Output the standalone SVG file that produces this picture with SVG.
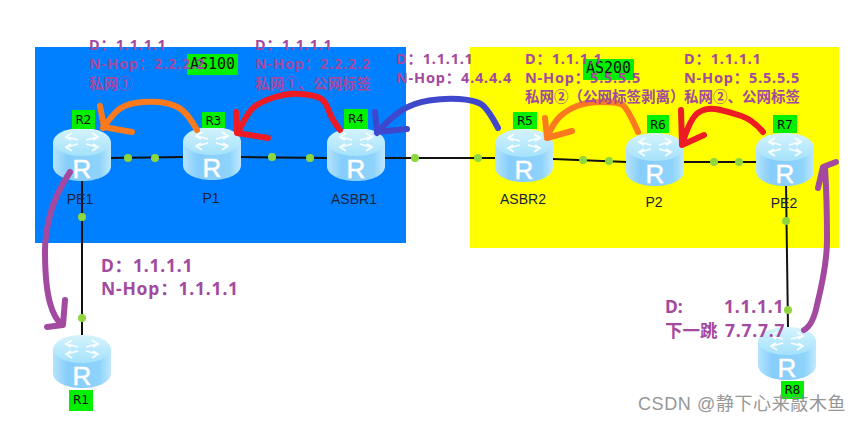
<svg xmlns="http://www.w3.org/2000/svg" xmlns:xlink="http://www.w3.org/1999/xlink" width="865" height="423" viewBox="0 0 865 423">
<style>
.bg{fill:#fff}
.link{fill:none;stroke:#111;stroke-width:2}
.dot{fill:#8fd63f}
.tag{fill:#00f000}
.tagt{font-family:"DejaVu Sans Mono","Liberation Mono",monospace;font-size:13px;fill:#111;text-anchor:middle}
.ast{font-size:15px}
.name{font-family:"Liberation Sans",Arial,sans-serif;font-size:14px;fill:#17233a;text-anchor:middle}
.info{font-family:"Noto Sans","Noto Sans CJK SC",sans-serif;font-size:14.5px;font-weight:700;fill:#a3499f}
.sp{letter-spacing:.8px}
.big{font-size:17.5px}
.arrow{fill:none;stroke-width:6;stroke-linecap:round;stroke-linejoin:round}
.rt{fill:#fff;stroke:#fff;stroke-width:.5;font-family:"Liberation Sans",Arial,sans-serif;font-size:26px;text-anchor:middle}
</style>
<defs>
<linearGradient id="side" x1="0" x2="1" y1="0" y2="0"><stop offset="0" stop-color="#b5e4fc"/><stop offset=".25" stop-color="#87cdfb"/><stop offset=".8" stop-color="#8ed3fb"/><stop offset="1" stop-color="#c0e9fd"/></linearGradient>
<linearGradient id="top" x1="0" x2="0" y1="0" y2="1"><stop offset="0" stop-color="#d5f3fd"/><stop offset="1" stop-color="#a4e2fb"/></linearGradient>
<symbol id="router" width="58" height="54" viewBox="0 0 58 54" overflow="visible">
<path d="M0 14V38C0 47 13 53 29 53S58 47 58 38V14Z" fill="url(#side)"/>
<ellipse cx="29" cy="14" rx="29" ry="14" fill="url(#top)"/>
<g fill="none" stroke="#fff" stroke-width="1.800" opacity=".9">
<path d="M19 5l-6 4 5 3M14 9l11 3M39 5l6 4-5 3M44 9l-11 3M19 23l-6-4 5-3M14 19l11-3M39 23l6-4-5-3M44 19l-11-3"/>
</g>
<text x="29" y="50" class="rt">R</text>
</symbol>
</defs>
<rect class="bg" width="865" height="423"/>
<rect x="35" y="47" width="371" height="196" fill="#0080ff"/>
<rect x="470" y="47" width="369" height="201" fill="#ffff00"/>
<g id="connectors">
<path class="link" d="M110 158L184 157"/>
<path class="link" d="M241 157L328 158"/>
<path class="link" d="M384 158L496 158"/>
<path class="link" d="M553 159L627 162"/>
<path class="link" d="M684 162L757 162"/>
<path class="link" d="M82 180V336"/>
<path class="link" d="M786 183L788 328"/>
<g class="dot">
<circle cx="128" cy="158" r="4"/><circle cx="155" cy="158" r="4"/>
<circle cx="272" cy="157" r="4"/><circle cx="310" cy="158" r="4"/>
<circle cx="415" cy="158" r="4"/><circle cx="478" cy="158" r="4"/>
<circle cx="583" cy="160" r="4"/><circle cx="609" cy="161" r="4"/>
<circle cx="714" cy="162" r="4"/><circle cx="739" cy="162" r="4"/>
<circle cx="82" cy="217" r="4"/><circle cx="82" cy="318" r="4"/>
<circle cx="786" cy="221" r="4"/><circle cx="788" cy="310" r="4"/>
</g>
</g>
<g id="as100"><rect x="187" y="54" width="51" height="21" class="tag"/><text x="212.500" y="69" class="tagt ast">AS100</text></g>
<g id="as200"><rect x="583" y="59" width="51" height="21" class="tag"/><text x="608.500" y="73" class="tagt ast">AS200</text></g>
<g id="R2"><use xlink:href="#router" href="#router" x="53" y="128" width="58" height="54"/><rect x="72" y="110" width="23" height="19" class="tag"/><text x="83.500" y="124" class="tagt">R2</text><text x="80" y="204" class="name">PE1</text></g>
<g id="R3"><use xlink:href="#router" href="#router" x="183" y="127" width="58" height="54"/><rect x="202" y="112" width="23" height="16" class="tag"/><text x="213.500" y="125" class="tagt">R3</text><text x="211" y="203" class="name">P1</text></g>
<g id="R4"><use xlink:href="#router" href="#router" x="327" y="128" width="58" height="54"/><rect x="344" y="109" width="24" height="20" class="tag"/><text x="356" y="123" class="tagt">R4</text><text x="354" y="204" class="name">ASBR1</text></g>
<g id="R5"><use xlink:href="#router" href="#router" x="495" y="129" width="58" height="54"/><rect x="513" y="112" width="24" height="17" class="tag"/><text x="525" y="125" class="tagt">R5</text><text x="523" y="204" class="name">ASBR2</text></g>
<g id="R6"><use xlink:href="#router" href="#router" x="626" y="133" width="58" height="54"/><rect x="647" y="115" width="22" height="18" class="tag"/><text x="658" y="129" class="tagt">R6</text><text x="654" y="207" class="name">P2</text></g>
<g id="R7"><use xlink:href="#router" href="#router" x="756" y="133" width="58" height="54"/><rect x="773" y="115" width="24" height="18" class="tag"/><text x="785" y="129" class="tagt">R7</text><text x="784" y="208" class="name">PE2</text></g>
<g id="R1"><use xlink:href="#router" href="#router" x="53" y="335" width="58" height="54"/><rect x="69" y="390" width="24" height="21" class="tag"/><text x="81" y="404" class="tagt">R1</text></g>
<g id="R8"><use xlink:href="#router" href="#router" x="758" y="327" width="58" height="54"/><rect x="781" y="381" width="23" height="18" class="tag"/><text x="792.500" y="394" class="tagt">R8</text></g>
<g id="arrows">
<path class="arrow" stroke="#fb7a1e" d="M197 130Q187 112 178.500 107.500Q170 103 158.500 102Q147 101 135 103Q123 105 116.500 111.500Q110 118 103 128M100 106L104 127L132 132"/>
<path class="arrow" stroke="#ed1c24" d="M340 130Q332 120 328.500 110Q325 100 319 97.500Q313 95 300 94Q287 93 273.500 97.500Q260 102 253.500 107.500Q247 113 238 133M236 112L237 133L268 138"/>
<path class="arrow" stroke="#3f48cc" d="M498 128Q487 107 480 103.500Q473 100 459 99Q445 98 429 100.500Q413 103 401.500 110.500Q390 118 377 133M375 112L377 132L407 129"/>
<path class="arrow" stroke="#fb7a1e" d="M638 132Q627 107 622 104.500Q617 102 602 102Q587 102 577 106Q567 110 560 116.500Q553 123 547 138M545 118L547 138L572 131"/>
<path class="arrow" stroke="#ed1c24" d="M763 132Q753 120 741.500 116Q730 112 718.500 109.500Q707 107 698.500 112.500Q690 118 682 145M681 110L682 145L704 135"/>
<path class="arrow" stroke="#a3499f" d="M70 172Q55 195 50 215Q45 235 45 250Q45 285 50 303Q54 318 62 325M65 300L63 325L47 327"/>
<path class="arrow" stroke="#a3499f" d="M804 330Q813 325 817 305Q827 265 827 240Q827 200 825 167M818 188L823 167L836 162"/>
</g>
<g id="labels" class="info">
<text x="89" y="50" class="sp">D：1.1.1.1</text><text x="89" y="69" class="sp">N-Hop：2.2.2.2</text><text x="89" y="89">私网①</text>
<text x="255" y="50" class="sp">D：1.1.1.1</text><text x="255" y="69" class="sp">N-Hop：2.2.2.2</text><text x="255" y="89">私网①、公网标签</text>
<text x="396" y="64" class="sp">D：1.1.1.1</text><text x="396" y="83" class="sp">N-Hop：4.4.4.4</text>
<text x="525" y="64" class="sp">D：1.1.1.1</text><text x="525" y="83" class="sp">N-Hop：5.5.5.5</text><text x="525" y="102">私网②（公网标签剥离）</text>
<text x="684" y="64" class="sp">D：1.1.1.1</text><text x="684" y="83" class="sp">N-Hop：5.5.5.5</text><text x="684" y="102">私网②、公网标签</text>
<text x="101" y="272" class="sp big">D：1.1.1.1</text><text x="101" y="295" class="sp big">N-Hop：1.1.1.1</text>
<text x="665" y="313" class="big">D:</text><text x="724" y="313" class="sp big">1.1.1.1</text><text x="665" y="337" class="big">下一跳</text><text x="725" y="337" class="sp big">7.7.7.7</text>
</g>
<text x="638" y="410" style="font-family:'Liberation Sans','Noto Sans CJK SC',sans-serif;font-size:18px;letter-spacing:.6px;fill:#8c8c8c;opacity:.9">CSDN @静下心来敲木鱼</text>
</svg>
